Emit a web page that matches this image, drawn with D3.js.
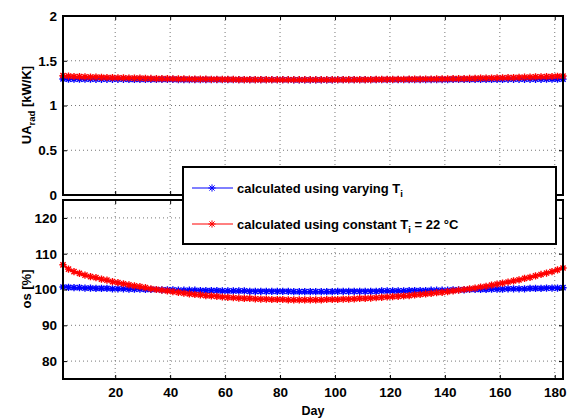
<!DOCTYPE html>
<html>
<head>
<meta charset="utf-8">
<script src="https://cdn.jsdelivr.net/npm/d3@7"></script>
<style>
  body { margin: 0; background: #fff; }
  svg text { font-family: "Liberation Sans", Arial, Helvetica, sans-serif; font-weight: bold; }
</style>
</head>
<body>
<svg width="568" height="419"></svg>
<script>
// sampled every 2nd day, days 1..183
var days = d3.range(1, 184, 2);

// UA_rad [kW/K]
var uaVarying = [1.296,1.295,1.295,1.295,1.294,1.294,1.293,1.293,1.293,1.293,1.293,1.293,1.292,1.292,1.292,1.291,1.291,1.291,1.291,1.291,
  1.291,1.290,1.290,1.290,1.290,1.289,1.289,1.289,1.289,1.288,1.288,1.288,1.288,1.288,1.288,1.288,1.288,1.288,1.288,1.288,
  1.288,1.288,1.287,1.287,1.287,1.287,1.287,1.287,1.287,1.287,1.288,1.288,1.288,1.288,1.288,1.288,1.288,1.288,1.288,1.288,
  1.288,1.288,1.288,1.289,1.289,1.289,1.289,1.290,1.290,1.290,1.290,1.291,1.291,1.291,1.291,1.291,1.291,1.291,1.292,1.292,
  1.292,1.293,1.293,1.293,1.293,1.293,1.293,1.293,1.294,1.294,1.294,1.295];
var uaConstant = [1.333,1.328,1.324,1.322,1.320,1.318,1.317,1.315,1.313,1.312,1.310,1.309,1.307,1.306,1.305,1.304,1.302,1.301,1.300,1.300,
  1.299,1.298,1.297,1.296,1.295,1.294,1.294,1.293,1.293,1.292,1.291,1.291,1.290,1.290,1.290,1.289,1.289,1.289,1.288,1.288,
  1.288,1.288,1.288,1.288,1.288,1.288,1.288,1.288,1.288,1.288,1.288,1.289,1.289,1.289,1.290,1.290,1.290,1.291,1.291,1.292,
  1.292,1.293,1.293,1.294,1.294,1.295,1.296,1.296,1.297,1.298,1.299,1.300,1.300,1.301,1.302,1.303,1.305,1.305,1.307,1.308,
  1.310,1.311,1.312,1.314,1.316,1.317,1.319,1.321,1.323,1.324,1.327,1.329];

// os [%]
var osVarying = [100.7,100.6,100.5,100.5,100.4,100.4,100.3,100.3,100.3,100.2,100.2,100.2,100.1,100.1,100.1,100.0,100.0,100.0,99.9,99.9,
  99.9,99.8,99.8,99.8,99.8,99.7,99.7,99.7,99.7,99.6,99.6,99.6,99.6,99.6,99.5,99.5,99.5,99.5,99.5,99.5,
  99.5,99.5,99.4,99.4,99.4,99.4,99.4,99.4,99.4,99.4,99.5,99.5,99.5,99.5,99.5,99.5,99.5,99.5,99.6,99.6,
  99.6,99.6,99.6,99.7,99.7,99.7,99.7,99.8,99.8,99.8,99.8,99.9,99.9,99.9,100.0,100.0,100.0,100.0,100.1,100.1,
  100.1,100.2,100.2,100.2,100.2,100.3,100.3,100.3,100.4,100.4,100.4,100.5];
var osConstant = [106.9,105.7,105.0,104.5,104.0,103.6,103.3,102.9,102.6,102.2,101.9,101.6,101.3,101.0,100.8,100.5,100.2,100.0,99.8,99.6,
  99.4,99.2,99.0,98.8,98.6,98.5,98.3,98.2,98.1,97.9,97.8,97.7,97.6,97.5,97.5,97.4,97.3,97.3,97.2,97.2,
  97.2,97.1,97.1,97.1,97.1,97.1,97.1,97.1,97.2,97.2,97.2,97.3,97.3,97.4,97.5,97.5,97.6,97.7,97.8,97.9,
  98.0,98.1,98.2,98.3,98.5,98.6,98.8,98.9,99.1,99.2,99.4,99.6,99.8,100.0,100.2,100.4,100.7,100.9,101.2,101.5,
  101.8,102.1,102.4,102.7,103.1,103.4,103.8,104.2,104.6,105.0,105.5,106.0];

var xTicks = [20, 40, 60, 80, 100, 120, 140, 160, 180];
var uaTicks = [0, 0.5, 1, 1.5, 2];
var osTicks = [80, 90, 100, 110, 120];
var legendLabels = ["calculated using varying T", "calculated using constant T"];

var svg = d3.select('svg');
var left = 63, right = 563;
var blue = '#0000ff', red = '#ff0000';

var xScale = d3.scaleLinear().domain([1, 183]).range([left, right]);

// asterisk marker like matlab '*'
var r = 3.6, k = r * 0.72;
var star = `M${-r},0H${r}M0,${-r}V${r}M${-k},${-k}L${k},${k}M${-k},${k}L${k},${-k}`;

function panel(top, bottom, domain, yTicks, series, showX) {
    var yScale = d3.scaleLinear().domain(domain).range([bottom, top]);
    var g = svg.append('g');

    //dotted grid
    g.selectAll('.gx').data(xTicks).join('line')
        .attr('x1', d => xScale(d)).attr('x2', d => xScale(d))
        .attr('y1', top).attr('y2', bottom)
        .attr('stroke', '#777').attr('stroke-width', 1).attr('stroke-dasharray', '1,3');
    g.selectAll('.gy').data(yTicks.filter(d => yScale(d) > top + 1 && yScale(d) < bottom - 1)).join('line')
        .attr('x1', left).attr('x2', right)
        .attr('y1', d => yScale(d)).attr('y2', d => yScale(d))
        .attr('stroke', '#777').attr('stroke-width', 1).attr('stroke-dasharray', '1,3');

    //series: line plus star markers
    var line = d3.line().x((d, i) => xScale(days[i])).y(d => yScale(d));
    series.forEach(s => {
        g.append('path').attr('d', line(s.values))
            .attr('fill', 'none').attr('stroke', s.color).attr('stroke-width', 2);
        g.append('g').selectAll('path').data(s.values).join('path')
            .attr('transform', (d, i) => `translate(${xScale(days[i])},${yScale(d)})`)
            .attr('d', star)
            .attr('fill', 'none').attr('stroke', s.color).attr('stroke-width', 1.4);
    });

    //axes with inward ticks on all sides
    var fmt = d => d3.format('~g')(d);
    g.append('g').attr('transform', `translate(${left},0)`)
        .call(d3.axisLeft(yScale).tickValues(yTicks).tickSize(-4).tickPadding(6).tickFormat(fmt));
    g.append('g').attr('transform', `translate(${right},0)`)
        .call(d3.axisRight(yScale).tickValues(yTicks).tickSize(-4).tickFormat(''));
    g.append('g').attr('transform', `translate(0,${bottom})`)
        .call(d3.axisBottom(xScale).tickValues(xTicks).tickSize(-4).tickPadding(8)
            .tickFormat(showX ? fmt : ''));
    g.append('g').attr('transform', `translate(0,${top})`)
        .call(d3.axisTop(xScale).tickValues(xTicks).tickSize(-4).tickFormat(''));
    g.selectAll('.domain').remove();
    g.selectAll('.tick line').attr('stroke', '#000');
    g.selectAll('.tick text').attr('font-size', 13.5).attr('fill', '#000')
        .attr('font-family', '"Liberation Sans", Arial, sans-serif').attr('font-weight', 'bold');

    g.append('rect')
        .attr('x', left).attr('y', top)
        .attr('width', right - left).attr('height', bottom - top)
        .attr('fill', 'none').attr('stroke', '#000').attr('stroke-width', 2);
    return yScale;
}

panel(16, 195, [0, 2], uaTicks,
    [{values: uaVarying, color: blue}, {values: uaConstant, color: red}], false);
panel(200, 379, [75, 125], osTicks,
    [{values: osVarying, color: blue}, {values: osConstant, color: red}], true);

//axis labels
var ua = svg.append('text')
    .attr('transform', 'translate(31,105) rotate(-90)')
    .attr('text-anchor', 'middle').attr('font-size', 13);
ua.append('tspan').text('UA');
ua.append('tspan').attr('font-size', 9.5).attr('dy', 4).text('rad');
ua.append('tspan').attr('dy', -4).text(' [kW/K]');

svg.append('text')
    .attr('transform', 'translate(31,289) rotate(-90)')
    .attr('text-anchor', 'middle').attr('font-size', 13)
    .text('os [%]');

svg.append('text')
    .attr('x', (left + right) / 2).attr('y', 415)
    .attr('text-anchor', 'middle').attr('font-size', 12.5)
    .text('Day');

//legend
var lg = svg.append('g');
lg.append('rect')
    .attr('x', 183).attr('y', 167)
    .attr('width', 373).attr('height', 77)
    .attr('fill', '#fff').attr('stroke', '#000').attr('stroke-width', 2);

var entries = [{color: blue, y: 188}, {color: red, y: 224}];
entries.forEach((e, i) => {
    lg.append('line')
        .attr('x1', 192).attr('x2', 233)
        .attr('y1', e.y).attr('y2', e.y)
        .attr('stroke', e.color).attr('stroke-width', 1);
    lg.append('path')
        .attr('transform', `translate(212,${e.y})`)
        .attr('d', star).attr('fill', 'none').attr('stroke', e.color).attr('stroke-width', 1);
    var t = lg.append('text')
        .attr('x', 237).attr('y', e.y + 4.5)
        .attr('font-size', 13);
    t.append('tspan').text(legendLabels[i]);
    t.append('tspan').attr('font-size', 9.5).attr('dy', 4).text('i');
    if (i == 1) t.append('tspan').attr('dy', -4).text(' = 22 \u00B0C');
});
</script>
</body>
</html>
